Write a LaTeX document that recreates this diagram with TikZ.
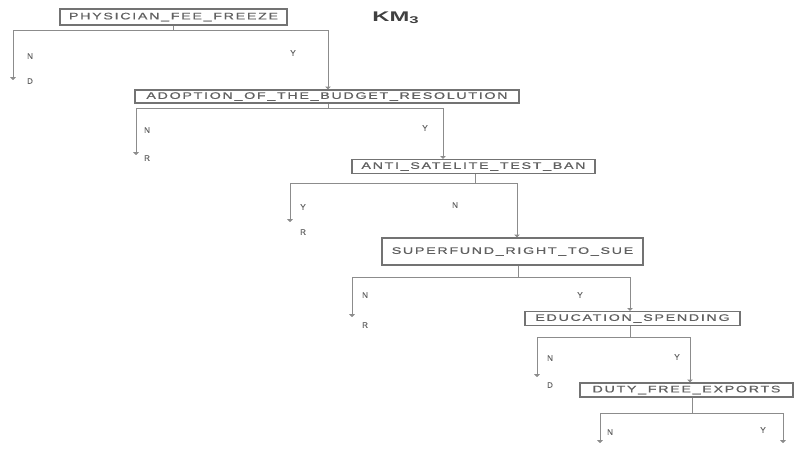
\documentclass[tikz,border=0pt]{standalone}
\usepackage{fontspec}
\setmainfont{Liberation Sans}
\newfontfamily\boxfont[LetterSpace=12,FakeBold=0.6]{Liberation Sans}
\newfontfamily\labfont[FakeBold=0.4]{Liberation Sans}
\usetikzlibrary{arrows.meta}
\newcommand{\bt}[1]{\scalebox{1.5}[1]{\boxfont\fontsize{9.5}{10}\selectfont #1}}
\begin{document}
\begin{tikzpicture}[x=1pt,y=-1pt,
  dbox/.style={draw=black!55,line width=1.1pt,text=black!62,inner sep=0pt,anchor=center},
  ln/.style={draw=black!45,line width=0.7pt},
  arr/.style={ln,-{Triangle[length=2.8pt,width=5.5pt]}},
  lab/.style={text=black!60,font=\labfont\fontsize{8}{9}\selectfont,inner sep=0pt}]
\useasboundingbox (0,0) rectangle (796,456);
\fill[white] (0,0) rectangle (796,456);
% boxes
\node[dbox,minimum width=227pt,minimum height=16pt] (b1) at (173.5,17) {\bt{PHYSICIAN\_FEE\_FREEZE}};
\node[dbox,minimum width=384pt,minimum height=13pt] (b2) at (327,96.5) {\bt{ADOPTION\_OF\_THE\_BUDGET\_RESOLUTION}};
\node[dbox,minimum width=243pt,minimum height=14pt] (b3) at (473.5,166.5) {\bt{ANTI\_SATELITE\_TEST\_BAN}};
\node[dbox,minimum width=261pt,minimum height=27pt] (b4) at (512.5,251.5) {\bt{SUPERFUND\_RIGHT\_TO\_SUE}};
\node[dbox,minimum width=215pt,minimum height=14pt] (b5) at (632.5,318.5) {\bt{EDUCATION\_SPENDING}};
\node[dbox,minimum width=213pt,minimum height=14pt] (b6) at (686.5,390) {\bt{DUTY\_FREE\_EXPORTS}};
\node[text=black!75,inner sep=0pt] (km) at (396,18) {\scalebox{1.7}[1]{\bfseries\fontsize{14}{16}\selectfont KM\textsubscript{3}}};
% junctions
\coordinate (j1) at (173,30); \coordinate (l1) at (13,30); \coordinate (r1) at (328,30); \coordinate (e1) at (13,80);
\coordinate (j2) at (328,108); \coordinate (l2) at (136,108); \coordinate (r2) at (443,108); \coordinate (e2) at (136,155);
\coordinate (j3) at (475,183); \coordinate (l3) at (290,183); \coordinate (r3) at (517,183); \coordinate (e3) at (290,222);
\coordinate (j4) at (518,277); \coordinate (l4) at (352,277); \coordinate (r4) at (630,277); \coordinate (e4) at (352,317);
\coordinate (j5) at (630,337); \coordinate (l5) at (537,337); \coordinate (r5) at (690,337); \coordinate (e5) at (537,377);
\coordinate (j6) at (692,413); \coordinate (l6) at (600,413); \coordinate (r6) at (783,413); \coordinate (e6) at (600,443); \coordinate (f6) at (783,443);
% connectors
\draw[ln] (b1.south -| j1) -- (j1);
\draw[arr] (j1) -- (l1) -- (e1);
\draw[arr] (j1) -- (r1) -- (b2.north -| r1);
\draw[ln] (b2.south -| j2) -- (j2);
\draw[arr] (j2) -- (l2) -- (e2);
\draw[arr] (j2) -- (r2) -- (b3.north -| r2);
\draw[ln] (b3.south -| j3) -- (j3);
\draw[arr] (j3) -- (l3) -- (e3);
\draw[arr] (j3) -- (r3) -- (b4.north -| r3);
\draw[ln] (b4.south -| j4) -- (j4);
\draw[arr] (j4) -- (l4) -- (e4);
\draw[arr] (j4) -- (r4) -- (b5.north -| r4);
\draw[ln] (b5.south -| j5) -- (j5);
\draw[arr] (j5) -- (l5) -- (e5);
\draw[arr] (j5) -- (r5) -- (b6.north -| r5);
\draw[ln] (b6.south -| j6) -- (j6);
\draw[arr] (j6) -- (l6) -- (e6);
\draw[arr] (j6) -- (r6) -- (f6);
% labels
\node[lab] (n1) at (30,56) {N}; \node[lab] (y1) at (293,53) {Y}; \node[lab] (d1) at (30,81) {D};
\node[lab] (n2) at (147,130) {N}; \node[lab] (y2) at (425,128) {Y}; \node[lab] (d2) at (147,158) {R};
\node[lab] (n3) at (303,207) {Y}; \node[lab] (y3) at (455,205) {N}; \node[lab] (d3) at (303,232) {R};
\node[lab] (n4) at (365,295) {N}; \node[lab] (y4) at (580,295) {Y}; \node[lab] (d4) at (365,325) {R};
\node[lab] (n5) at (550,358) {N}; \node[lab] (y5) at (677,357) {Y}; \node[lab] (d5) at (550,385) {D};
\node[lab] (n6) at (610,432) {N}; \node[lab] (y6) at (763,430) {Y};
\end{tikzpicture}
\end{document}
